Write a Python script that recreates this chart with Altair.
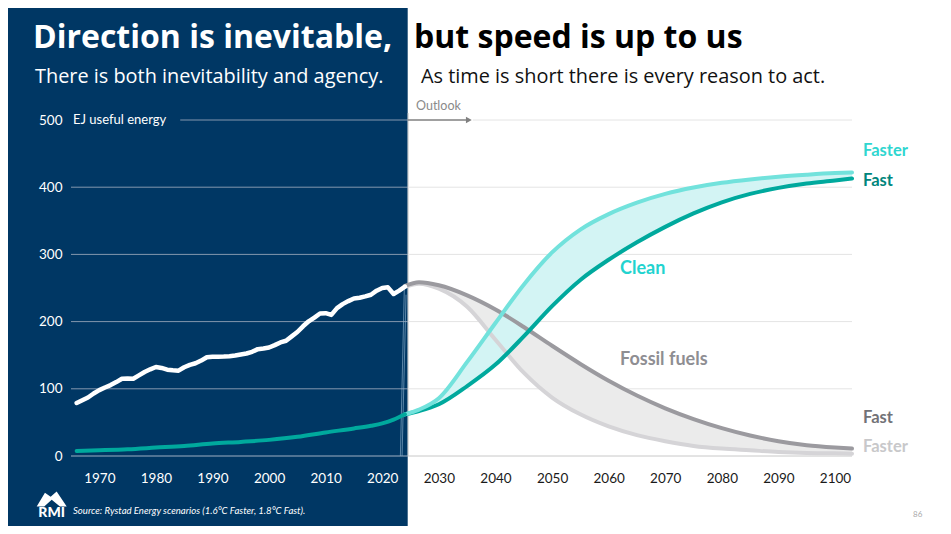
import altair as alt
import pandas as pd

# ---------------- data ----------------
hist_years = list(range(1966, 2025))
hist_total = [79, 83, 87, 93, 98, 102, 105.5, 110, 115, 115.5,
              115, 120, 125, 129, 132.5, 131, 128.5, 127.5, 127, 132,
              135.5, 138, 142, 147, 147.8, 147.8, 148, 148.5, 149.5, 151,
              152.5, 155, 159, 160, 161.5, 165, 169, 171.5, 178, 184.5,
              193, 200.5, 206, 212, 212.5, 210, 220, 226, 230.5, 234.5,
              235.5, 237.5, 240, 246, 250, 251, 241, 246, 252]

clean_hist_years = [1966, 1970, 1975, 1980, 1985, 1990, 1995, 2000, 2005, 2010, 2015, 2018, 2020, 2022, 2024]
clean_hist = [7.5, 8.5, 10, 12.5, 15, 18.5, 21, 24, 28.5, 35, 41, 45, 48.5, 54, 62]

fut_years = [2024, 2026.5, 2030, 2035, 2040, 2045, 2050, 2055, 2060, 2065, 2070, 2075, 2080, 2085, 2090, 2095, 2100, 2103]
clean_faster = [62, 69, 86, 140, 198, 255, 303, 337, 360, 377, 390, 399.5, 406.5, 411.5, 415.5, 418.5, 421, 422]
clean_fast = [62, 67, 77, 104, 136, 178, 223, 262, 292, 318, 341, 361, 377.5, 390, 399, 405.5, 410, 413]
fossil_fast = [253, 258.5, 254, 239, 218, 192, 164, 137, 112, 90, 71, 55, 41.5, 30.5, 22, 16, 12.5, 11]
fossil_faster = [252, 256.5, 249, 222, 173, 124, 87, 62, 44, 31, 22, 15, 11, 8.5, 6, 4.5, 4, 3.5]

# faint edge strokes visible at the hand-over year in the original
seam_a_years = [2023.2, 2023.9]
seam_a_vals = [0, 250]
seam_b_years = [2023.5, 2024.2]
seam_b_vals = [0, 240]

x_ticks = [1970, 1980, 1990, 2000, 2010, 2020, 2030, 2040, 2050, 2060, 2070, 2080, 2090, 2100]
y_ticks = [0, 100, 200, 300, 400, 500]

# ---------------- styling ----------------
NAVY = "#003764"
SPLIT = 2024.5
X0, X1 = 1965, 2103

hist = pd.DataFrame({"year": hist_years, "v": hist_total})
chist = pd.DataFrame({"year": clean_hist_years, "v": clean_hist})
fut = pd.DataFrame({"year": fut_years, "cfr": clean_faster, "cf": clean_fast,
                    "ff": fossil_fast, "ffr": fossil_faster})
seams = pd.DataFrame({"year": seam_a_years + seam_b_years, "v": seam_a_vals + seam_b_vals,
                      "s": ["a", "a", "b", "b"]})

grid_rows = []
for g in [100, 200, 300, 400]:
    grid_rows.append({"gy": g, "x1": X0, "x2": SPLIT, "c": "#8397ae"})
    grid_rows.append({"gy": g, "x1": SPLIT, "x2": X1, "c": "#e4e4e4"})
grid_rows.append({"gy": 500, "x1": 1984.3, "x2": SPLIT, "c": "#8397ae"})
grid_rows.append({"gy": 500, "x1": 2036, "x2": X1, "c": "#e4e4e4"})
grid_rows.append({"gy": 0, "x1": X0, "x2": SPLIT, "c": "#9fb0c2"})
grid_rows.append({"gy": 0, "x1": SPLIT, "x2": X1, "c": "#c8c8c8"})
grid = pd.DataFrame(grid_rows)

arrow = pd.DataFrame({"x1": [SPLIT], "x2": [2035.3], "gy": [500]})
arrow_head = pd.DataFrame({"x": [2035.3], "gy": [500]})
one = pd.DataFrame({"a": [0]})

xs = alt.Scale(domain=[X0, X1], nice=False, zero=False)
ys = alt.Scale(domain=[0, 500], nice=False)
xaxis = alt.Axis(values=x_ticks, format="d", domain=False, ticks=False, grid=False,
                 labelColor={"expr": "datum.value < 2025 ? '#ffffff' : '#1a1a1a'"},
                 labelFont="Lato", labelFontSize=13.5, labelPadding=15, title=None, zindex=2)
yaxis = alt.Axis(values=y_ticks, domain=False, ticks=False, grid=False,
                 labelColor="#ffffff", labelFont="Lato", labelFontSize=13.5,
                 labelPadding=9, title=None, zindex=2)


def X(f):
    return alt.X(f, type="quantitative", scale=xs, axis=xaxis)


def Y(f):
    return alt.Y(f, type="quantitative", scale=ys, axis=yaxis)


def txt(s, x, y, size, color, weight="normal", font="Lato", align="left",
        baseline="middle", style="normal"):
    return alt.Chart(one).mark_text(
        text=s, fontSize=size, color=color, fontWeight=weight, font=font,
        align=align, baseline=baseline, fontStyle=style
    ).encode(x=alt.value(x), y=alt.value(y))


layers = []
# navy background of the historical half
layers.append(alt.Chart(one).mark_rect(color=NAVY).encode(
    x=alt.value(-80), x2=alt.value(336.7), y=alt.value(-130), y2=alt.value(420)))
# divider
layers.append(alt.Chart(one).mark_rule(color="#cfcfcf", strokeWidth=1).encode(
    x=alt.value(337.2), y=alt.value(-7), y2=alt.value(336)))
# gridlines
layers.append(alt.Chart(grid).mark_rule(strokeWidth=1).encode(
    x=X("x1"), x2="x2:Q", y=Y("gy"), color=alt.Color("c:N", scale=None)))
# outlook arrow
layers.append(alt.Chart(arrow).mark_rule(strokeWidth=1.3, color="#808080").encode(
    x=X("x1"), x2="x2:Q", y=Y("gy")))
layers.append(alt.Chart(arrow_head).mark_point(shape="triangle-right", filled=True,
                                                size=45, color="#808080", opacity=1).encode(
    x=X("x"), y=Y("gy")))
# seam strokes
layers.append(alt.Chart(seams).mark_line(color="#8fb3cf", strokeWidth=0.8, opacity=0.8).encode(
    x=X("year"), y=Y("v"), detail="s:N"))
# bands
layers.append(alt.Chart(fut).mark_area(color="#ebebeb", interpolate="monotone").encode(
    x=X("year"), y=Y("ffr"), y2="ff:Q"))
layers.append(alt.Chart(fut).mark_area(color="#d3f4f4", interpolate="monotone").encode(
    x=X("year"), y=Y("cf"), y2="cfr:Q"))
# scenario lines
for col, colr in [("ffr", "#d5d4d7"), ("ff", "#9b9a9f"), ("cf", "#00a99d"), ("cfr", "#72e2dc")]:
    layers.append(alt.Chart(fut).mark_line(color=colr, strokeWidth=4, interpolate="monotone",
                                           strokeCap="round").encode(x=X("year"), y=Y(col)))
# historical lines
layers.append(alt.Chart(chist).mark_line(color="#00a99d", strokeWidth=4, interpolate="monotone",
                                         strokeCap="round").encode(x=X("year"), y=Y("v")))
layers.append(alt.Chart(hist).mark_line(color="#ffffff", strokeWidth=4.5, strokeCap="round",
                                        strokeJoin="round").encode(x=X("year"), y=Y("v")))

# texts
layers.append(txt("Direction is inevitable,", -38, -72, 32, "#ffffff", "bold", "Open Sans", baseline="alphabetic"))
layers.append(txt("but speed is up to us", 343, -72, 32, "#000000", "bold", "Open Sans", baseline="alphabetic"))
layers.append(txt("There is both inevitability and agency.", -36, -37, 19.9, "#ffffff", font="Open Sans", baseline="alphabetic"))
layers.append(txt("As time is short there is every reason to act.", 350, -37, 19.9, "#111111", font="Open Sans", baseline="alphabetic"))
layers.append(txt("EJ useful energy", 2, 0, 13, "#ffffff"))
layers.append(txt("Outlook", 345, -14, 12.5, "#8a8a8a"))
layers.append(txt("Faster", 792, 31, 16.5, "#2fd6d0", "bold"))
layers.append(txt("Fast", 792, 61, 16.5, "#00857c", "bold"))
layers.append(txt("Clean", 549, 149, 18, "#22d3cf", "bold"))
layers.append(txt("Fossil fuels", 549, 240, 18, "#8e8e92", "bold"))
layers.append(txt("Fast", 792, 298, 16.5, "#727277", "bold"))
layers.append(txt("Faster", 792, 327, 16.5, "#c8c8ca", "bold"))
layers.append(txt("Source: Rystad Energy scenarios (1.6°C  Faster, 1.8°C  Fast).", 2, 391, 9.6,
                  "#ffffff", style="italic"))
layers.append(txt("86", 842, 395, 8, "#aaaaaa"))
# RMI logo
layers.append(txt("RMI", -19.3, 393, 14, "#ffffff", 900, align="center"))
layers.append(alt.Chart(one).mark_point(
    shape="M-1,0.5 L-0.45,-0.41 L-0.07,-0.15 L0.33,-0.5 L1,0.5 L0.55,0.5 L0,0.05 L-0.5,0.5 Z",
    filled=True, size=900, color="#ffffff", opacity=1).encode(x=alt.value(-19.3), y=alt.value(379)))

chart = alt.layer(*layers).properties(
    width=781, height=336,
    padding={"left": 63, "top": 112, "right": 91, "bottom": 70},
    autosize=alt.AutoSizeParams(type="none"),
    background="#ffffff",
).configure_view(stroke=None)

chart.save("out.html", embed_options={"renderer": "svg", "actions": False})
